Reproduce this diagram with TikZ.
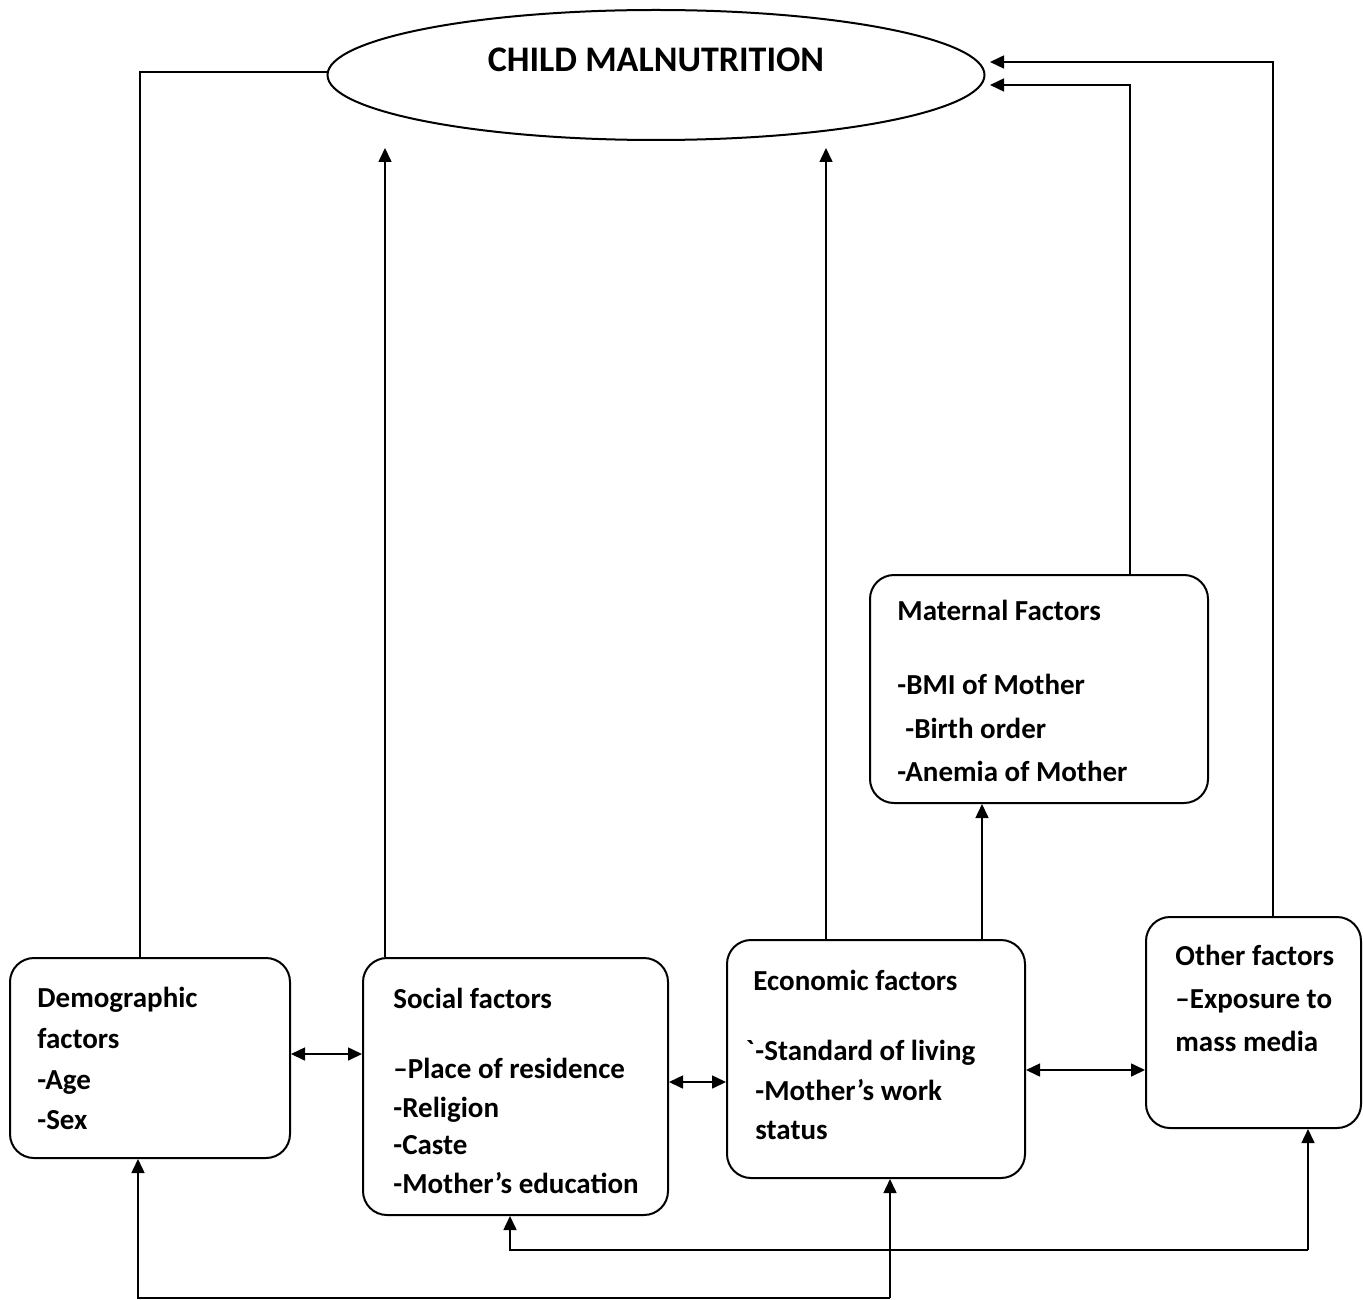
\documentclass[tikz,border=0pt]{standalone}
\usepackage{fontspec}
\setmainfont{Carlito}
\usetikzlibrary{arrows.meta,shapes.geometric}
\tikzset{
  box/.style={draw, line width=1pt, rounded corners=12pt, inner sep=0pt},
  txt/.style={anchor=base west, inner sep=0pt, font=\fontsize{14.5}{17}\selectfont\bfseries},
  conn/.style={line width=0.8pt},
  arr/.style={conn, -{Triangle[length=7pt,width=6.5pt]}},
  darr/.style={conn, {Triangle[length=7pt,width=6.5pt]}-{Triangle[length=7pt,width=6.5pt]}},
}
\begin{document}
\begin{tikzpicture}[x=0.5pt,y=-0.5pt]
\useasboundingbox[fill=white] (0,0) rectangle (1363,1299);
% ellipse
\node[draw, line width=1pt, ellipse, minimum width=328.5pt, minimum height=65pt, inner sep=0pt] (ell) at (656,75) {};
\node[inner sep=0pt, font=\fontsize{18}{20}\selectfont\bfseries] (title) at (656,60) {CHILD MALNUTRITION};
% boxes
\node[box, minimum width=140pt, minimum height=100pt] (demo) at (150,1058) {};
\node[box, minimum width=152.5pt, minimum height=128.5pt] (soc) at (515.5,1086.5) {};
\node[box, minimum width=149pt, minimum height=119pt] (eco) at (876,1059) {};
\node[box, minimum width=107.5pt, minimum height=105.5pt] (oth) at (1253.5,1022.5) {};
\node[box, minimum width=169pt, minimum height=114pt] (mat) at (1039,689) {};
% texts
\node[txt] (d1) at (37,1007) {Demographic};
\node[txt] (d2) at (37,1048) {factors};
\node[txt] (d3) at (37,1089) {-Age};
\node[txt] (d4) at (37,1129) {-Sex};
\node[txt] (s1) at (393,1008) {Social factors};
\node[txt] (s2) at (393,1078) {–Place of residence};
\node[txt] (s3) at (393,1117) {-Religion};
\node[txt] (s4) at (393,1154) {-Caste};
\node[txt] (s5) at (393,1193) {-Mother’s education};
\node[txt] (e1) at (753,990) {Economic factors};
\node[txt, anchor=base east] (e0) at (755,1060) {\textasciigrave};
\node[txt] (e2) at (755,1060) {-Standard of living};
\node[txt] (e3) at (755,1100) {-Mother’s work};
\node[txt] (e4) at (755,1139) {status};
\node[txt] (o1) at (1175,965) {Other factors};
\node[txt] (o2) at (1175,1008) {–Exposure to};
\node[txt] (o3) at (1175,1051) {mass media};
\node[txt] (m1) at (897,620) {Maternal Factors};
\node[txt] (m2) at (897,694) {-BMI of Mother};
\node[txt] (m3) at (905,738) {-Birth order};
\node[txt] (m4) at (897,781) {-Anemia of Mother};
% connectors to the top
\coordinate (c1) at (140,72);
\draw[conn] (c1 |- demo.north) -- (c1) -- (c1 -| ell.west);
\coordinate (t1) at (385,148);
\draw[arr] (t1 |- soc.north) -- (t1);
\coordinate (t2) at (826,148);
\draw[arr] (t2 |- eco.north) -- (t2);
\coordinate (t3) at (982,0);
\draw[arr] (t3 |- eco.north) -- (t3 |- mat.south);
\coordinate (t4) at (990,85);
\coordinate (k4) at (1130,85);
\draw[arr] (k4 |- mat.north) -- (k4) -- (t4);
\coordinate (t5) at (990,62);
\coordinate (k5) at (1273,62);
\draw[arr] (k5 |- oth.north) -- (k5) -- (t5);
% horizontal double arrows
\coordinate (h1) at (0,1054);
\draw[darr] (h1 -| demo.east) -- (h1 -| soc.west);
\coordinate (h2) at (0,1082);
\draw[darr] (h2 -| soc.east) -- (h2 -| eco.west);
\coordinate (h3) at (0,1070);
\draw[darr] (h3 -| eco.east) -- (h3 -| oth.west);
% bottom feedback lines
\coordinate (b1) at (138,1298);
\coordinate (b2) at (890,1298);
\draw[arr] (b2) -- (b1) -- (b1 |- demo.south);
\draw[arr] (b2) -- (b2 |- eco.south);
\coordinate (b3) at (510,1250);
\coordinate (b4) at (1308,1250);
\draw[arr] (b4) -- (b3) -- (b3 |- soc.south);
\draw[arr] (b4) -- (b4 |- oth.south);
\end{tikzpicture}
\end{document}
